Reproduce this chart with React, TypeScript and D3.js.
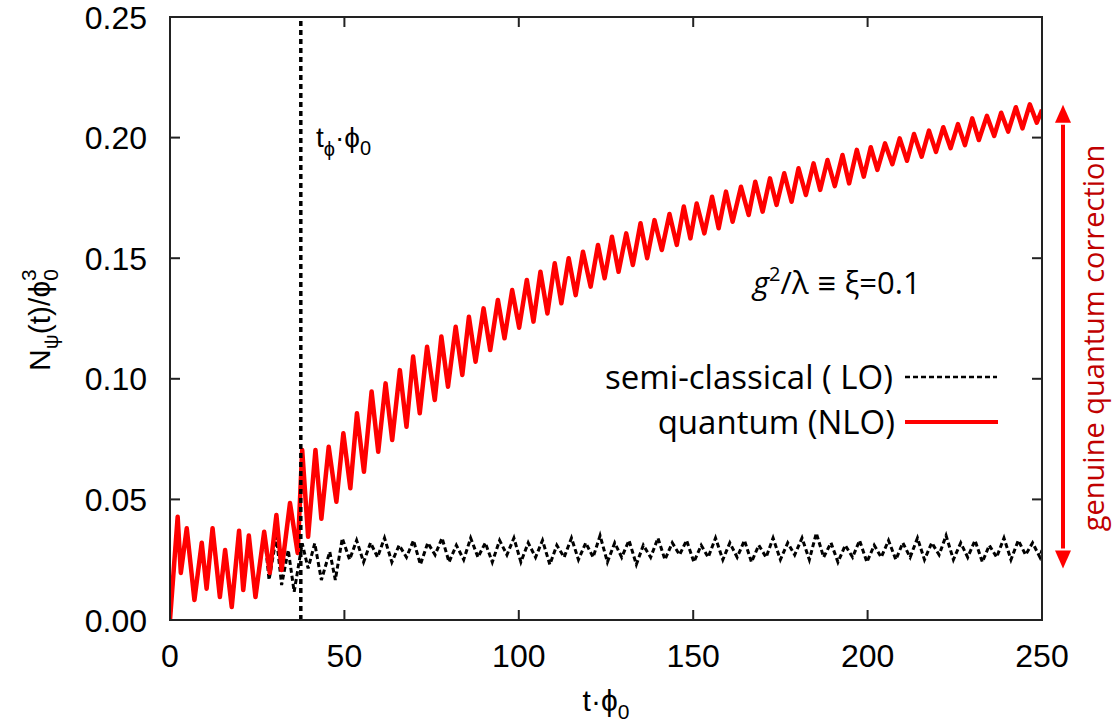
import React from 'react';
import * as d3 from 'd3';

// shared start: both runs coincide until the curves split (~t=27)
const earlyT = [0, 2.2, 3.1, 4.8, 7.0, 9.1, 10.5, 12.2, 14.3, 15.8, 17.7, 19.8, 21.0, 22.6, 24.5, 27.0];
const earlyY = [0, 0.0428, 0.0195, 0.038, 0.0083, 0.032, 0.013, 0.038, 0.0095, 0.029, 0.0054, 0.037, 0.0124, 0.035, 0.0095, 0.0366];

// quantum (NLO), extrema
const quantumT = [
  28.6, 30.5, 32.0, 34.4, 36.6, 37.9, 39.6, 41.7, 43.4, 45.5, 47.7, 49.7, 51.7, 53.6, 55.6, 57.8, 59.7, 61.8, 63.7, 65.9,
  67.8, 69.7, 71.6, 73.7, 75.9, 77.8, 79.7, 81.9, 83.8, 85.7, 87.6, 89.9, 91.8, 94.0, 95.9, 98.1, 100.1, 102.3, 104.2, 106.2,
  108.2, 110.3, 112.2, 114.3, 116.3, 118.4, 120.6, 122.7, 124.6, 126.7, 128.6, 130.8, 132.7, 134.9, 136.8, 138.9, 141.0, 143.2,
  145.3, 147.3, 149.2, 151.0, 153.2, 155.4, 157.3, 159.4, 161.3, 163.7, 165.9, 167.8, 169.9, 172.0, 173.9, 176.1, 178.2, 180.2,
  182.3, 184.5, 186.4, 188.5, 190.6, 192.8, 194.7, 196.9, 198.9, 200.9, 202.8, 205.0, 207.1, 209.2, 211.3, 213.3, 215.5, 217.6,
  219.6, 221.7, 223.8, 225.9, 227.9, 230.0, 231.9, 234.2, 236.3, 238.3, 240.3, 242.5, 244.4, 246.5, 248.5, 250
];
const quantumY = [
  0.0195, 0.0435, 0.0207, 0.0485, 0.0278, 0.0705, 0.0345, 0.0705, 0.042, 0.0718, 0.049, 0.0774, 0.0546, 0.0857, 0.0615, 0.0947, 0.0698, 0.0981, 0.0746, 0.1036,
  0.0801, 0.1092, 0.0857, 0.1133, 0.0912, 0.1175, 0.0967, 0.1216, 0.1016, 0.1257, 0.1071, 0.1292, 0.1119, 0.1327, 0.1168, 0.1368, 0.1212, 0.141, 0.1237, 0.1444,
  0.1271, 0.1479, 0.1313, 0.15, 0.1347, 0.1527, 0.1382, 0.1555, 0.1417, 0.1589, 0.1444, 0.1603, 0.1472, 0.1645, 0.15, 0.1658, 0.1534, 0.1683,
  0.1555, 0.1714, 0.1582, 0.1727, 0.1603, 0.1755, 0.1624, 0.1776, 0.1651, 0.1796, 0.1679, 0.1817, 0.1693, 0.1831, 0.1721, 0.1852, 0.1734, 0.1873,
  0.1762, 0.1893, 0.1783, 0.1907, 0.1799, 0.1928, 0.181, 0.1949, 0.1838, 0.196, 0.1866, 0.1976, 0.189, 0.1997, 0.1904, 0.2015, 0.1921, 0.2029,
  0.1941, 0.2043, 0.1956, 0.2056, 0.1969, 0.208, 0.199, 0.209, 0.2007, 0.2103, 0.2025, 0.2126, 0.2038, 0.2138, 0.2062, 0.2115
];

// semi-classical (LO)
const semiT = [
  28.4, 30.5, 32.0, 33.9, 35.6, 37.9, 39.6, 41.5, 43.4, 45.8, 47.4, 49.4, 51.5, 53.5, 55.5, 57.5, 59.5, 61.5, 63.6, 65.7,
  67.8, 69.8, 71.8, 73.9, 76.0, 78.0, 80.0, 82.1, 84.2, 86.2, 88.3, 90.4, 92.4, 94.5, 96.6, 98.6, 100.6, 102.7, 104.8, 106.8,
  108.9, 110.9, 113.0, 115.1, 117.1, 119.2, 121.3, 123.3, 125.4, 127.5, 129.5, 131.6, 133.7, 135.7, 137.8, 139.9, 141.9, 144.0,
  146.1, 148.1, 150.2, 152.3, 154.3, 156.4, 158.5, 160.5, 162.6, 164.7, 166.7, 168.8, 170.9, 172.9, 175.0, 177.1, 179.1, 181.2,
  183.3, 185.3, 187.4, 189.5, 191.5, 193.6, 195.7, 197.7, 199.8, 201.9, 203.9, 206.0, 208.1, 210.1, 212.2, 214.3, 216.3, 218.4,
  220.5, 222.5, 224.6, 226.7, 228.7, 230.8, 232.9, 234.9, 237.0, 239.1, 241.1, 243.2, 245.3, 247.3, 249.4, 250
];
const semiY = [
  0.0166, 0.0345, 0.0145, 0.029, 0.0117, 0.0318, 0.0214, 0.0318, 0.0166, 0.0283, 0.0166, 0.0339, 0.025, 0.033, 0.024, 0.032, 0.026, 0.034, 0.024, 0.031,
  0.026, 0.033, 0.023, 0.032, 0.027, 0.034, 0.024, 0.031, 0.025, 0.034, 0.026, 0.032, 0.024, 0.033, 0.027, 0.034, 0.024, 0.032, 0.026, 0.033,
  0.023, 0.031, 0.026, 0.034, 0.025, 0.032, 0.026, 0.035, 0.024, 0.032, 0.026, 0.033, 0.023, 0.031, 0.026, 0.034, 0.025, 0.032,
  0.027, 0.033, 0.024, 0.031, 0.026, 0.034, 0.025, 0.032, 0.026, 0.033, 0.024, 0.031, 0.026, 0.034, 0.025, 0.032, 0.027, 0.034,
  0.025, 0.036, 0.026, 0.032, 0.024, 0.031, 0.026, 0.033, 0.024, 0.031, 0.026, 0.033, 0.025, 0.032, 0.026, 0.034, 0.025, 0.032,
  0.027, 0.035, 0.025, 0.032, 0.026, 0.033, 0.024, 0.031, 0.026, 0.034, 0.025, 0.033, 0.027, 0.032, 0.026, 0.029
];

const xTicks = [0, 50, 100, 150, 200, 250];
const yTicks = [0, 0.05, 0.1, 0.15, 0.2, 0.25];
const tPhi = 37.5;

const W = 1114;
const H = 725;
const margin = { top: 17, right: 72, bottom: 105, left: 170 };

const App = () => {
  const x = d3.scaleLinear().domain([0, 250]).range([margin.left, W - margin.right]);
  const y = d3.scaleLinear().domain([0, 0.25]).range([H - margin.bottom, margin.top]);
  const x0 = x(0), x1 = x(250), y0 = y(0), y1 = y(0.25);

  const line = d3.line<[number, number]>().x(d => x(d[0])).y(d => y(d[1]));
  const early = earlyT.map((t, i) => [t, earlyY[i]] as [number, number]);
  const quantum = early.concat(quantumT.map((t, i) => [t, quantumY[i]] as [number, number]));
  const semi = early.concat(semiT.map((t, i) => [t, semiY[i]] as [number, number]));

  const sans = 'Liberation Sans, Arial, sans-serif';
  const tickFont = { fontFamily: sans, fontSize: 32 };
  const legendFont = { fontFamily: 'Open Sans, sans-serif', fontSize: 33 };
  const arrowX = 1063;
  const top = y(0.207), bot = y(0.028);

  return (
    <svg width={W} height={H} style={{ position: 'absolute', left: 0, top: 0, background: '#fff' }}>
      <defs>
        <clipPath id="plot">
          <rect x={x0} y={y1} width={x1 - x0} height={y0 - y1} />
        </clipPath>
      </defs>

      {/* curves */}
      <g clipPath="url(#plot)">
        <path d={line(semi) || ''} fill="none" stroke="#000" strokeWidth={3} strokeDasharray="5,3" />
        <path d={line(quantum) || ''} fill="none" stroke="#ff0000" strokeWidth={4.5} strokeLinejoin="round" />
        <line x1={x(tPhi)} x2={x(tPhi)} y1={y0} y2={y1} stroke="#000" strokeWidth={3.5} strokeDasharray="5,4" />
      </g>

      {/* frame and ticks */}
      <rect x={x0} y={y1} width={x1 - x0} height={y0 - y1} fill="none" stroke="#222" strokeWidth={2} />
      {yTicks.map(v => (
        <g key={'y' + v}>
          <line x1={x0} x2={x0 + 10} y1={y(v)} y2={y(v)} stroke="#222" strokeWidth={2} />
          <line x1={x1} x2={x1 - 10} y1={y(v)} y2={y(v)} stroke="#222" strokeWidth={2} />
          <text x={147} y={y(v)} dy="0.36em" textAnchor="end" {...tickFont}>{d3.format('.2f')(v)}</text>
        </g>
      ))}
      {xTicks.map(v => (
        <g key={'x' + v}>
          <line x1={x(v)} x2={x(v)} y1={y0} y2={y0 - 10} stroke="#222" strokeWidth={2} />
          <line x1={x(v)} x2={x(v)} y1={y1} y2={y1 + 10} stroke="#222" strokeWidth={2} />
          <text x={x(v)} y={667} textAnchor="middle" {...tickFont}>{v}</text>
        </g>
      ))}

      {/* axis titles */}
      <text x={(x0 + x1) / 2} y={711} textAnchor="middle" fontFamily={sans} fontSize={30}>
        t·ϕ<tspan fontSize={21} dy={8}>0</tspan>
      </text>
      <text transform="translate(50,320) rotate(-90)" textAnchor="middle" fontFamily={sans} fontSize={30}>
        N<tspan fontSize={21} dy={8}>ψ</tspan><tspan dy={-8}>(t)/ϕ</tspan><tspan fontSize={21} dy={8}>0</tspan><tspan fontSize={21} dx={-12} dy={-22}>3</tspan>
      </text>

      {/* t_phi label */}
      <text x={316} y={147} fontFamily={sans} fontSize={28}>
        t<tspan fontSize={20} dy={9}>ϕ</tspan><tspan dy={-9}>·ϕ</tspan><tspan fontSize={20} dy={8}>0</tspan>
      </text>

      {/* parameter */}
      <text x={753} y={294} {...legendFont} fontSize={31}>
        <tspan fontStyle="italic">g</tspan><tspan fontSize={20} dy={-13}>2</tspan><tspan dy={13}>/λ</tspan>
        <tspan dx={9}>≡</tspan><tspan dx={9}>ξ=0.1</tspan>
      </text>

      {/* legend */}
      <text x={893} y={377} dy="0.35em" textAnchor="end" {...legendFont}>semi-classical ( LO)</text>
      <line x1={905} x2={997} y1={377} y2={377} stroke="#000" strokeWidth={2.6} strokeDasharray="5,3" />
      <text x={895} y={422} dy="0.35em" textAnchor="end" {...legendFont}>quantum (NLO)</text>
      <line x1={905} x2={998} y1={422} y2={422} stroke="#ff0000" strokeWidth={4} />

      {/* genuine quantum correction arrow */}
      <line x1={arrowX} x2={arrowX} y1={top + 4} y2={bot - 4} stroke="#ff0000" strokeWidth={4} />
      <path d={`M${arrowX - 8},${top + 2} L${arrowX},${top - 16} L${arrowX + 8},${top + 2} Z`} fill="#ff0000" />
      <path d={`M${arrowX - 8},${bot - 2} L${arrowX},${bot + 16} L${arrowX + 8},${bot - 2} Z`} fill="#ff0000" />
      <text transform="translate(1104,338) rotate(-90)" textAnchor="middle" fontFamily="Open Sans, sans-serif" fontSize={29} fill="#c00000">
        genuine quantum correction
      </text>
    </svg>
  );
};

export default App;
